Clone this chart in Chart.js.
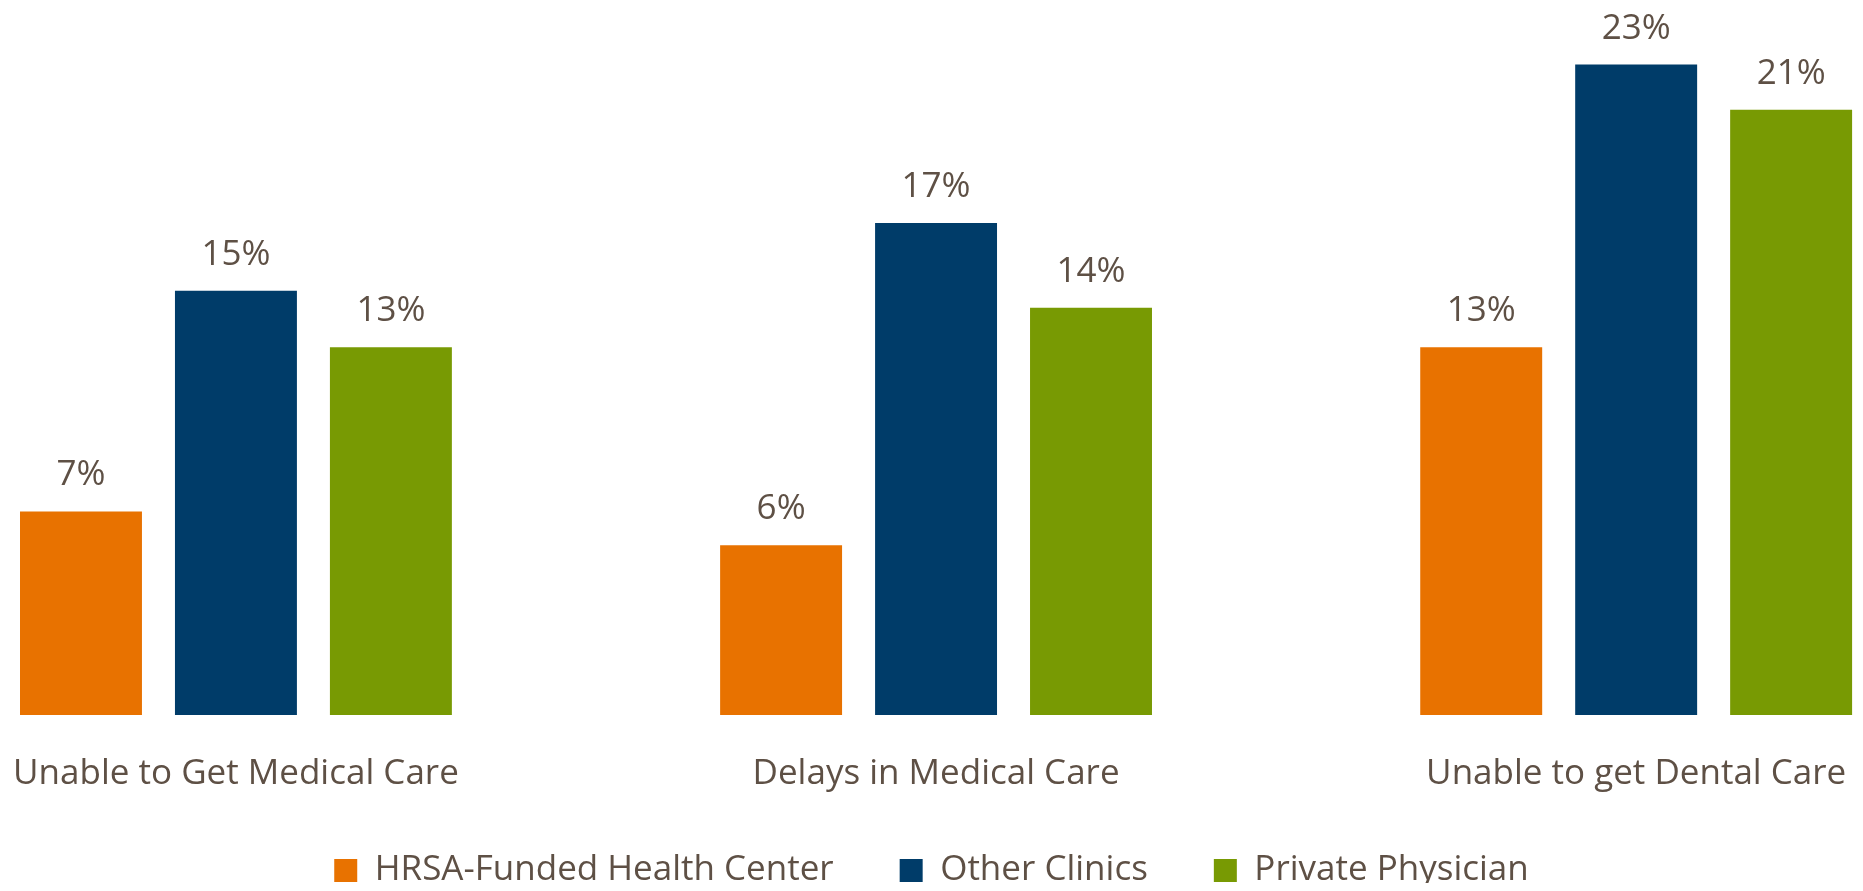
<!DOCTYPE html>
<html>
<head>
<meta charset="utf-8">
<script src="https://cdn.jsdelivr.net/npm/chart.js@4.4.1/dist/chart.umd.min.js"></script>
<style>
  html, body { margin: 0; padding: 0; background: #ffffff; overflow: hidden; }
  #wrap { width: 1863px; height: 891px; position: relative; }
  canvas { display: block; }
</style>
</head>
<body>
<div id="wrap"><canvas id="c"></canvas></div>
<script>
const categories = ['Unable to Get Medical Care', 'Delays in Medical Care', 'Unable to get Dental Care'];
const seriesNames = ['HRSA-Funded Health Center', 'Other Clinics', 'Private Physician'];
const hrsaValues = [7.2, 6.0, 13.0];
const otherClinicValues = [15.0, 17.4, 23.0];
const privatePhysicianValues = [13.0, 14.4, 21.4];

const textColor = '#5E5045';
const fontFamily = '"Open Sans", "Noto Sans", sans-serif';
const legendGap = 66;

const toPoints = (arr) => arr.map((v, i) => ({ x: i, y: v }));

const dataLabels = {
  id: 'dataLabels',
  afterDatasetsDraw(chart) {
    const ctx = chart.ctx;
    ctx.save();
    ctx.font = '35px ' + fontFamily;
    ctx.fillStyle = textColor;
    ctx.textAlign = 'center';
    ctx.textBaseline = 'alphabetic';
    chart.data.datasets.forEach((ds, i) => {
      const meta = chart.getDatasetMeta(i);
      meta.data.forEach((bar, j) => {
        ctx.fillText(Math.round(ds.data[j].y) + '%', bar.x, bar.y - 26);
      });
    });
    ctx.restore();
  }
};

// Legend keeps wide horizontal gaps between items but reserves less vertical room
const compactLegend = {
  id: 'compactLegend',
  afterInit(chart) {
    const lg = chart.legend;
    if (!lg) return;
    const origFit = lg.fit.bind(lg);
    lg.fit = function () {
      origFit();
      this.height = 96;
    };
  },
  afterLayout(chart) {
    const lg = chart.legend;
    if (!lg) return;
    lg.top = chart.height - 104;
    lg.bottom = lg.top + lg.height;
  }
};

new Chart(document.getElementById('c'), {
  type: 'bar',
  data: {
    datasets: [
      { label: seriesNames[0], data: toPoints(hrsaValues), backgroundColor: '#E87200', clip: false },
      { label: seriesNames[1], data: toPoints(otherClinicValues), backgroundColor: '#003C69', clip: false },
      { label: seriesNames[2], data: toPoints(privatePhysicianValues), backgroundColor: '#789A03', clip: false }
    ]
  },
  options: {
    responsive: true,
    maintainAspectRatio: false,
    animation: false,
    categoryPercentage: 0.664,
    barPercentage: 0.787,
    layout: { padding: { left: 0, right: 0, top: 8, bottom: 0 } },
    scales: {
      x: {
        type: 'linear',
        min: -0.337,
        max: 2.324,
        offset: false,
        grid: { display: false, drawTicks: true, tickLength: 38 },
        border: { display: false },
        ticks: {
          stepSize: 1,
          includeBounds: false,
          color: textColor,
          font: { family: fontFamily, size: 35 },
          padding: 0,
          maxRotation: 0,
          autoSkip: false,
          callback: (value) => (Number.isInteger(value) && categories[value] !== undefined) ? categories[value] : ''
        }
      },
      y: {
        display: false,
        min: 0,
        max: 25
      }
    },
    plugins: {
      legend: {
        display: true,
        position: 'bottom',
        labels: {
          color: textColor,
          font: { family: fontFamily, size: 35 },
          boxWidth: 23,
          boxHeight: 23,
          padding: legendGap
        }
      },
      tooltip: { enabled: false }
    }
  },
  plugins: [dataLabels, compactLegend]
});
</script>
</body>
</html>
